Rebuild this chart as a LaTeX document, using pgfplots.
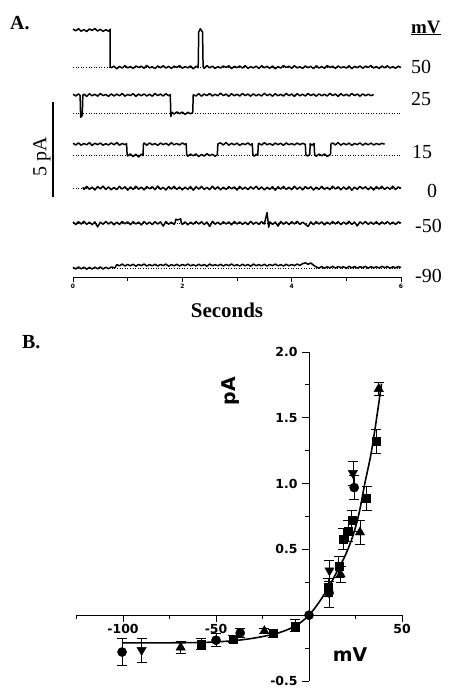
\documentclass[border=0pt]{standalone}
\usepackage{pgfplots}
\pgfplotsset{compat=1.18}
\usepackage{fontspec}
\setmainfont{Liberation Serif}
\newfontfamily\dejavu{DejaVu Sans}
\pgfplotsset{
  trace/.style={black, line width=1.5pt, no markers, line join=round},
  base/.style={black, dotted, line width=0.6pt, no markers},
}
\begin{document}
\begin{tikzpicture}
\path[use as bounding box] (0,0) rectangle (449bp,-688bp);

% ---------------- Panel A ----------------
\begin{axis}[at={(73bp,-277bp)}, anchor=south west, scale only axis,
  width=328bp, height=257bp, xmin=0, xmax=6, ymin=0, ymax=13.53,
  axis x line*=bottom, axis y line=none, clip=false,
  xtick={0,2,4,6}, xticklabels={0,2,4,6}, minor xtick={1,3,5},
  tick align=outside, major tick length=5bp, minor tick length=3.5bp,
  axis line style={line width=0.9pt}, tick style={black, line width=0.8pt},
  xticklabel style={font=\dejavu\bfseries\fontsize{6}{6}\selectfont, yshift=1bp}]
% baselines (closed level)
\addplot[base] coordinates {(0,11.05) (6,11.05)};
\addplot[base] coordinates {(0,8.63) (6,8.63)};
\addplot[base] coordinates {(0,6.42) (6,6.42)};
\addplot[base] coordinates {(0,4.68) (6,4.68)};
\addplot[base] coordinates {(0,2.84) (6,2.84)};
\addplot[base] coordinates {(0,0.47) (6,0.47)};
% +50 mV
\addplot[trace] table[row sep=\\, y expr=\thisrowno{1}+11.05]{t i\\
0 2.00\\ 0.05 1.91\\ 0.10 2.02\\ 0.15 1.89\\ 0.20 1.98\\ 0.25 1.87\\ 0.30 2.01\\ 0.35 1.93\\
0.40 2.03\\ 0.45 1.90\\ 0.50 1.99\\ 0.55 1.88\\ 0.60 1.97\\ 0.65 1.89\\ 0.68 2.00\\ 0.681 0.00\\
0.70 -0.03\\ 0.75 0.05\\ 0.80 -0.09\\ 0.85 0.04\\ 0.90 -0.05\\ 0.95 0.08\\ 1.00 -0.04\\ 1.05 0.03\\
1.10 -0.07\\ 1.15 0.06\\ 1.20 -0.02\\ 1.25 0.05\\ 1.30 -0.06\\ 1.35 0.09\\ 1.40 -0.04\\ 1.45 0.02\\
1.50 -0.08\\ 1.55 0.06\\ 1.60 -0.03\\ 1.65 0.07\\ 1.70 -0.05\\ 1.75 0.04\\ 1.80 -0.07\\ 1.85 0.05\\
1.90 -0.02\\ 1.95 0.08\\ 2.00 -0.06\\ 2.05 0.03\\ 2.10 -0.04\\ 2.15 0.06\\ 2.20 -0.09\\ 2.25 0.05\\
2.29 -0.03\\ 2.30 1.85\\ 2.33 2.02\\ 2.35 1.92\\ 2.37 1.85\\ 2.38 0.02\\ 2.40 -0.06\\ 2.45 0.08\\
2.50 -0.04\\ 2.55 0.05\\ 2.60 -0.07\\ 2.65 0.03\\ 2.70 -0.05\\ 2.75 0.06\\ 2.80 -0.02\\ 2.85 0.07\\
2.90 -0.08\\ 2.95 0.04\\ 3.00 -0.03\\ 3.05 0.06\\ 3.10 -0.05\\ 3.15 0.08\\ 3.20 -0.06\\ 3.25 0.02\\
3.30 -0.04\\ 3.35 0.05\\ 3.40 -0.07\\ 3.45 0.07\\ 3.50 -0.03\\ 3.55 0.04\\ 3.60 -0.06\\ 3.65 0.06\\
3.70 -0.09\\ 3.75 0.03\\ 3.80 -0.05\\ 3.85 0.08\\ 3.90 -0.02\\ 3.95 0.05\\ 4.00 -0.06\\ 4.05 0.07\\
4.10 -0.04\\ 4.15 0.02\\ 4.20 -0.07\\ 4.25 0.06\\ 4.30 -0.03\\ 4.35 0.04\\ 4.40 -0.08\\ 4.45 0.07\\
4.50 -0.05\\ 4.55 0.03\\ 4.60 -0.06\\ 4.65 0.08\\ 4.70 -0.02\\ 4.75 0.05\\ 4.80 -0.07\\ 4.85 0.06\\
4.90 -0.04\\ 4.95 0.02\\ 5.00 -0.05\\ 5.05 0.07\\ 5.10 -0.08\\ 5.15 0.04\\ 5.20 -0.03\\ 5.25 0.06\\
5.30 -0.06\\ 5.35 0.05\\ 5.40 -0.02\\ 5.45 0.08\\ 5.50 -0.05\\ 5.55 0.03\\ 5.60 -0.07\\ 5.65 0.06\\
5.70 -0.04\\ 5.75 0.07\\ 5.80 -0.05\\ 5.85 0.03\\ 5.90 -0.06\\ 5.95 0.05\\ 6.00 -0.02\\};
% +25 mV
\addplot[trace] table[row sep=\\, y expr=\thisrowno{1}+8.63]{t i\\
0 0.99\\ 0.05 0.90\\ 0.10 1.01\\ 0.13 0.93\\ 0.14 -0.22\\ 0.17 -0.12\\ 0.18 0.94\\ 0.20 1.00\\
0.25 0.88\\ 0.30 1.02\\ 0.35 0.91\\ 0.40 0.99\\ 0.45 0.89\\ 0.50 1.03\\ 0.55 0.92\\ 0.60 0.98\\
0.65 0.88\\ 0.70 1.01\\ 0.75 0.90\\ 0.80 1.00\\ 0.85 0.91\\ 0.90 1.03\\ 0.95 0.89\\ 1.00 0.98\\
1.05 0.92\\ 1.10 1.02\\ 1.15 0.88\\ 1.20 1.00\\ 1.25 0.91\\ 1.30 1.01\\ 1.35 0.90\\ 1.40 0.99\\
1.45 0.89\\ 1.50 1.03\\ 1.55 0.92\\ 1.60 1.00\\ 1.65 0.90\\ 1.70 1.02\\ 1.75 0.91\\ 1.78 0.97\\
1.79 -0.18\\ 1.81 0.04\\ 1.85 -0.05\\ 1.90 0.06\\ 1.95 -0.03\\ 2.00 0.05\\ 2.05 -0.07\\ 2.10 0.04\\
2.15 -0.04\\ 2.19 0.03\\ 2.20 0.96\\ 2.25 0.90\\ 2.30 1.02\\ 2.35 0.89\\ 2.40 1.00\\ 2.45 0.92\\
2.50 1.03\\ 2.55 0.90\\ 2.60 0.99\\ 2.65 0.91\\ 2.70 1.05\\ 2.75 0.92\\ 2.80 1.00\\ 2.85 0.88\\
2.90 1.02\\ 2.95 0.91\\ 3.00 0.99\\ 3.05 0.90\\ 3.10 1.03\\ 3.15 0.92\\ 3.20 1.00\\ 3.25 0.89\\
3.30 1.01\\ 3.35 0.91\\ 3.40 0.99\\ 3.45 0.90\\ 3.50 1.04\\ 3.55 0.92\\ 3.60 1.00\\ 3.65 0.89\\
3.70 1.02\\ 3.75 0.91\\ 3.80 0.99\\ 3.85 0.90\\ 3.90 1.03\\ 3.95 0.92\\ 4.00 1.00\\ 4.05 0.88\\
4.10 1.02\\ 4.15 0.91\\ 4.20 0.99\\ 4.25 0.90\\ 4.30 1.03\\ 4.35 0.92\\ 4.40 1.00\\ 4.45 0.89\\
4.50 1.01\\ 4.55 0.91\\ 4.60 0.99\\ 4.65 0.90\\ 4.70 1.04\\ 4.75 0.92\\ 4.80 1.00\\ 4.85 0.88\\
4.90 1.02\\ 4.95 0.91\\ 5.00 0.99\\ 5.05 0.90\\ 5.10 1.03\\ 5.15 0.92\\ 5.20 1.00\\ 5.25 0.89\\
5.30 1.01\\ 5.35 0.91\\ 5.40 0.99\\ 5.45 0.92\\ 5.50 0.97\\};
% +15 mV
\addplot[trace] table[row sep=\\, y expr=\thisrowno{1}+6.42]{t i\\
0 0.62\\ 0.05 0.53\\ 0.10 0.64\\ 0.15 0.52\\ 0.20 0.61\\ 0.25 0.54\\ 0.30 0.65\\ 0.35 0.51\\
0.40 0.62\\ 0.45 0.55\\ 0.50 0.63\\ 0.55 0.52\\ 0.60 0.60\\ 0.65 0.53\\ 0.70 0.64\\ 0.75 0.54\\
0.80 0.66\\ 0.85 0.52\\ 0.90 0.61\\ 0.95 0.55\\ 0.98 0.60\\ 0.99 0.03\\ 1.00 -0.05\\ 1.05 0.06\\
1.10 -0.08\\ 1.15 0.04\\ 1.20 -0.10\\ 1.25 0.05\\ 1.28 -0.03\\ 1.29 0.58\\ 1.30 0.63\\ 1.35 0.52\\
1.40 0.64\\ 1.45 0.54\\ 1.50 0.61\\ 1.55 0.51\\ 1.60 0.63\\ 1.65 0.55\\ 1.70 0.62\\ 1.75 0.52\\
1.80 0.65\\ 1.85 0.54\\ 1.90 0.61\\ 1.95 0.53\\ 2.00 0.64\\ 2.05 0.55\\ 2.07 0.60\\ 2.08 0.02\\
2.10 -0.06\\ 2.15 0.05\\ 2.20 -0.04\\ 2.25 0.06\\ 2.30 -0.08\\ 2.35 0.03\\ 2.40 -0.05\\ 2.45 0.07\\
2.50 -0.03\\ 2.55 0.04\\ 2.60 -0.06\\ 2.64 0.02\\ 2.65 0.59\\ 2.70 0.64\\ 2.75 0.53\\ 2.80 0.66\\
2.85 0.52\\ 2.90 0.62\\ 2.95 0.54\\ 3.00 0.63\\ 3.05 0.51\\ 3.10 0.61\\ 3.15 0.55\\ 3.20 0.64\\
3.25 0.52\\ 3.28 0.60\\ 3.29 0.01\\ 3.32 -0.06\\ 3.35 0.04\\ 3.38 -0.02\\ 3.39 0.59\\ 3.40 0.62\\
3.45 0.53\\ 3.50 0.65\\ 3.55 0.54\\ 3.60 0.61\\ 3.65 0.52\\ 3.70 0.63\\ 3.75 0.55\\ 3.80 0.62\\
3.85 0.51\\ 3.90 0.64\\ 3.95 0.54\\ 4.00 0.61\\ 4.05 0.53\\ 4.10 0.63\\ 4.15 0.55\\ 4.20 0.62\\
4.25 0.56\\ 4.26 0.01\\ 4.29 -0.05\\ 4.33 0.03\\ 4.34 0.60\\ 4.37 0.52\\ 4.41 0.61\\ 4.42 0.02\\
4.45 -0.06\\ 4.50 0.05\\ 4.55 -0.04\\ 4.60 0.06\\ 4.65 -0.07\\ 4.71 0.03\\ 4.72 0.59\\ 4.75 0.64\\
4.80 0.53\\ 4.85 0.66\\ 4.90 0.52\\ 4.95 0.62\\ 5.00 0.54\\ 5.05 0.63\\ 5.10 0.51\\ 5.15 0.61\\
5.20 0.55\\ 5.25 0.64\\ 5.30 0.52\\ 5.35 0.62\\ 5.40 0.54\\ 5.45 0.63\\ 5.50 0.53\\ 5.55 0.61\\
5.60 0.55\\ 5.65 0.62\\ 5.70 0.57\\};
% 0 mV
\addplot[trace] table[row sep=\\, y expr=\thisrowno{1}+4.68]{t i\\
0.18 0.04\\ 0.20 -0.07\\ 0.25 0.09\\ 0.30 -0.06\\ 0.35 0.05\\ 0.40 -0.10\\ 0.45 0.08\\ 0.50 -0.04\\
0.55 0.10\\ 0.60 -0.07\\ 0.65 0.06\\ 0.70 -0.09\\ 0.75 0.04\\ 0.80 -0.08\\ 0.85 0.09\\ 0.90 -0.05\\
0.95 0.07\\ 1.00 -0.11\\ 1.05 0.06\\ 1.10 -0.07\\ 1.15 0.10\\ 1.20 -0.06\\ 1.25 0.05\\ 1.30 -0.09\\
1.35 0.08\\ 1.40 -0.04\\ 1.45 0.07\\ 1.50 -0.08\\ 1.55 0.11\\ 1.60 -0.06\\ 1.65 0.04\\ 1.70 -0.10\\
1.75 0.08\\ 1.80 -0.05\\ 1.85 0.09\\ 1.90 -0.07\\ 1.95 0.06\\ 2.00 -0.09\\ 2.05 0.05\\ 2.10 -0.06\\
2.15 0.08\\ 2.20 -0.11\\ 2.25 0.07\\ 2.30 -0.05\\ 2.35 0.09\\ 2.40 -0.07\\ 2.45 0.04\\ 2.50 -0.08\\
2.55 0.10\\ 2.60 -0.06\\ 2.65 0.07\\ 2.70 -0.09\\ 2.75 0.05\\ 2.80 -0.07\\ 2.85 0.08\\ 2.90 -0.04\\
2.95 0.06\\ 3.00 -0.10\\ 3.05 0.09\\ 3.10 -0.06\\ 3.15 0.05\\ 3.20 -0.08\\ 3.25 0.07\\ 3.30 -0.05\\
3.35 0.10\\ 3.40 -0.07\\ 3.45 0.06\\ 3.50 -0.09\\ 3.55 0.04\\ 3.60 -0.06\\ 3.65 0.08\\ 3.70 -0.11\\
3.75 0.07\\ 3.80 -0.05\\ 3.85 0.09\\ 3.90 -0.07\\ 3.95 0.05\\ 4.00 -0.08\\ 4.05 0.10\\ 4.10 -0.06\\
4.15 0.06\\ 4.20 -0.09\\ 4.25 0.08\\ 4.30 -0.04\\ 4.35 0.07\\ 4.40 -0.10\\ 4.45 0.05\\ 4.50 -0.07\\
4.55 0.09\\ 4.60 -0.06\\ 4.65 0.04\\ 4.70 -0.08\\ 4.75 0.10\\ 4.80 -0.05\\ 4.85 0.07\\ 4.90 -0.09\\
4.95 0.06\\ 5.00 -0.07\\ 5.05 0.08\\ 5.10 -0.11\\ 5.15 0.05\\ 5.20 -0.06\\ 5.25 0.09\\ 5.30 -0.04\\
5.35 0.07\\ 5.40 -0.08\\ 5.45 0.06\\ 5.50 -0.10\\ 5.55 0.08\\ 5.60 -0.05\\ 5.65 0.09\\ 5.70 -0.07\\
5.75 0.05\\ 5.80 -0.06\\ 5.85 0.10\\ 5.90 -0.08\\ 5.95 0.06\\ 6.00 -0.02\\};
% -50 mV
\addplot[trace] table[row sep=\\, y expr=\thisrowno{1}+2.84]{t i\\
0 0.06\\ 0.05 -0.08\\ 0.10 0.07\\ 0.15 -0.05\\ 0.20 0.09\\ 0.25 -0.07\\ 0.30 0.05\\ 0.35 -0.09\\
0.40 0.06\\ 0.45 -0.20\\ 0.50 0.04\\ 0.55 -0.06\\ 0.60 0.08\\ 0.65 -0.05\\ 0.70 0.06\\ 0.75 -0.09\\
0.80 0.05\\ 0.85 -0.07\\ 0.90 0.08\\ 0.95 -0.04\\ 1.00 0.06\\ 1.05 -0.08\\ 1.10 0.07\\ 1.15 -0.05\\
1.20 0.05\\ 1.25 -0.10\\ 1.30 0.08\\ 1.35 -0.06\\ 1.40 0.05\\ 1.45 -0.08\\ 1.50 0.07\\ 1.55 -0.05\\
1.60 0.06\\ 1.65 -0.16\\ 1.70 0.08\\ 1.75 -0.06\\ 1.80 0.05\\ 1.85 -0.07\\ 1.87 0.04\\ 1.88 0.20\\
1.92 0.17\\ 1.97 0.22\\ 1.98 0.02\\ 2.00 -0.07\\ 2.05 0.06\\ 2.10 -0.09\\ 2.15 0.05\\ 2.20 -0.06\\
2.25 0.08\\ 2.30 -0.05\\ 2.35 0.07\\ 2.40 -0.08\\ 2.45 0.05\\ 2.50 -0.18\\ 2.55 0.09\\ 2.60 -0.06\\
2.65 0.05\\ 2.70 -0.08\\ 2.75 0.07\\ 2.80 -0.05\\ 2.85 0.06\\ 2.90 -0.09\\ 2.95 0.08\\ 3.00 -0.05\\
3.05 0.06\\ 3.10 -0.07\\ 3.15 0.05\\ 3.20 -0.08\\ 3.25 0.09\\ 3.30 -0.06\\ 3.35 0.05\\ 3.40 -0.07\\
3.45 0.08\\ 3.50 -0.05\\ 3.55 0.55\\ 3.58 -0.22\\ 3.60 0.06\\ 3.65 -0.07\\ 3.70 0.05\\ 3.75 -0.16\\
3.80 0.08\\ 3.85 -0.06\\ 3.90 0.06\\ 3.95 -0.08\\ 4.00 0.07\\ 4.05 -0.05\\ 4.10 0.09\\ 4.15 -0.07\\
4.20 0.05\\ 4.25 -0.06\\ 4.30 -0.18\\ 4.35 0.06\\ 4.40 -0.08\\ 4.45 0.07\\ 4.50 -0.05\\ 4.55 0.06\\
4.60 -0.09\\ 4.65 0.05\\ 4.70 -0.06\\ 4.75 0.08\\ 4.80 -0.05\\ 4.85 0.07\\ 4.90 -0.08\\ 4.95 0.05\\
5.00 -0.06\\ 5.05 0.09\\ 5.10 -0.07\\ 5.15 0.05\\ 5.20 -0.15\\ 5.25 0.06\\ 5.30 -0.05\\ 5.35 0.08\\
5.40 -0.07\\ 5.45 0.05\\ 5.50 -0.06\\ 5.55 0.07\\ 5.60 -0.08\\ 5.65 0.06\\ 5.70 -0.05\\ 5.75 0.08\\
5.80 -0.06\\ 5.85 0.05\\ 5.90 -0.07\\ 5.95 0.06\\ 6.00 0.00\\};
% -90 mV
\addplot[trace] table[row sep=\\, y expr=\thisrowno{1}+0.47]{t i\\
0 0.04\\ 0.05 -0.05\\ 0.10 0.06\\ 0.15 -0.04\\ 0.20 0.05\\ 0.25 -0.06\\ 0.30 0.04\\ 0.35 -0.05\\
0.40 0.05\\ 0.45 -0.04\\ 0.50 0.06\\ 0.55 -0.05\\ 0.60 0.04\\ 0.65 -0.03\\ 0.70 0.05\\ 0.77 0.02\\
0.80 0.18\\ 0.85 0.12\\ 0.90 0.21\\ 0.95 0.11\\ 1.00 0.19\\ 1.05 0.12\\ 1.10 0.20\\ 1.15 0.10\\
1.20 0.19\\ 1.25 0.13\\ 1.30 0.21\\ 1.35 0.11\\ 1.40 0.18\\ 1.45 0.12\\ 1.50 0.20\\ 1.55 0.11\\
1.60 0.19\\ 1.65 0.13\\ 1.70 0.21\\ 1.75 0.10\\ 1.80 0.18\\ 1.85 0.12\\ 1.90 0.20\\ 1.95 0.11\\
2.00 0.19\\ 2.05 0.13\\ 2.10 0.21\\ 2.15 0.12\\ 2.20 0.18\\ 2.25 0.11\\ 2.30 0.20\\ 2.35 0.12\\
2.40 0.19\\ 2.45 0.10\\ 2.50 0.21\\ 2.55 0.13\\ 2.60 0.18\\ 2.65 0.12\\ 2.70 0.20\\ 2.75 0.11\\
2.80 0.19\\ 2.85 0.13\\ 2.90 0.21\\ 2.95 0.12\\ 3.00 0.18\\ 3.05 0.11\\ 3.10 0.20\\ 3.15 0.12\\
3.20 0.19\\ 3.25 0.10\\ 3.30 0.21\\ 3.35 0.13\\ 3.40 0.18\\ 3.45 0.12\\ 3.50 0.20\\ 3.55 0.11\\
3.60 0.19\\ 3.65 0.13\\ 3.70 0.21\\ 3.75 0.12\\ 3.80 0.18\\ 3.85 0.11\\ 3.90 0.20\\ 3.95 0.12\\
4.00 0.19\\ 4.05 0.13\\ 4.10 0.21\\ 4.15 0.14\\ 4.20 0.23\\ 4.25 0.28\\ 4.30 0.20\\ 4.35 0.27\\
4.40 0.15\\ 4.45 0.06\\ 4.50 0.00\\ 4.55 0.08\\ 4.60 -0.01\\ 4.65 0.07\\ 4.70 0.01\\ 4.75 0.09\\
4.80 0.00\\ 4.85 0.08\\ 4.90 0.02\\ 4.95 0.07\\ 5.00 -0.01\\ 5.05 0.09\\ 5.10 0.01\\ 5.15 0.08\\
5.20 0.00\\ 5.25 0.07\\ 5.30 0.02\\ 5.35 0.09\\ 5.40 -0.01\\ 5.45 0.08\\ 5.50 0.01\\ 5.55 0.07\\
5.60 0.00\\ 5.65 0.09\\ 5.70 0.02\\ 5.75 0.08\\ 5.80 -0.01\\ 5.85 0.07\\ 5.90 0.01\\ 5.95 0.08\\
6.00 0.03\\};
% 5 pA scale bar
\draw[line width=1.3pt] (axis cs:-0.366,4.21) -- (axis cs:-0.366,9.21);
\end{axis}

\node[font=\bfseries\fontsize{20}{22}\selectfont, anchor=base west, inner sep=0pt] at (10bp,-29bp) {A.};
\node[font=\bfseries\fontsize{19}{21}\selectfont, anchor=base west, inner sep=0pt] at (411bp,-33bp) {\underline{mV}};
\node[font=\fontsize{20}{22}\selectfont, anchor=base west, inner sep=0pt] at (411bp,-73bp) {50};
\node[font=\fontsize{20}{22}\selectfont, anchor=base west, inner sep=0pt] at (411bp,-105bp) {25};
\node[font=\fontsize{20}{22}\selectfont, anchor=base west, inner sep=0pt] at (412bp,-158bp) {15};
\node[font=\fontsize{20}{22}\selectfont, anchor=base west, inner sep=0pt] at (427bp,-197bp) {0};
\node[font=\fontsize{20}{22}\selectfont, anchor=base west, inner sep=0pt] at (415bp,-232bp) {-50};
\node[font=\fontsize{20}{22}\selectfont, anchor=base west, inner sep=0pt] at (415bp,-282bp) {-90};
\node[font=\fontsize{20}{22}\selectfont, rotate=90, inner sep=0pt] at (42bp,-157bp) {5 pA};
\node[font=\bfseries\fontsize{21}{23}\selectfont, anchor=base, inner sep=0pt] at (227bp,-317bp) {Seconds};

% ---------------- Panel B ----------------
\node[font=\bfseries\fontsize{20}{22}\selectfont, anchor=base west, inner sep=0pt] at (22bp,-348bp) {B.};

\begin{axis}[at={(76.5bp,-681bp)}, anchor=south west, scale only axis,
  width=325.5bp, height=329bp, xmin=-125, xmax=50, ymin=-0.5, ymax=2.0,
  axis lines=middle, axis line style={-, line width=1pt}, clip=false,
  tick align=outside, major tick length=7bp, minor tick length=4bp,
  tick style={black, line width=1pt},
  xtick={-100,-50,50}, xticklabels={-100,-50,50}, minor xtick={-125,-75,-25,25},
  ytick={-0.5,0.5,1,1.5,2}, yticklabels={-0.5,0.5,1.0,1.5,2.0},
  minor ytick={-0.25,0.25,0.75,1.25,1.75},
  ticklabel style={font=\dejavu\bfseries\fontsize{12.5}{13}\selectfont},
  xticklabel style={yshift=1bp}, yticklabel style={xshift=-1bp},
  error bars/y dir=both, error bars/y explicit,
  error bars/error bar style={line width=0.8pt, black},
  error bars/error mark options={rotate=90, line width=0.8pt, mark size=5bp, black}]
% fitted curve
\addplot[black, line width=1.6pt, smooth, no markers] coordinates {
(-100,-0.21) (-80,-0.21) (-60,-0.208) (-50,-0.203) (-40,-0.193) (-30,-0.175)
(-20,-0.148) (-15,-0.128) (-10,-0.10) (-5,-0.06) (0,0) (5,0.09) (10,0.20)
(15,0.33) (20,0.47) (24,0.62) (27,0.78) (30,1.0) (33,1.2) (35,1.37) (37,1.56) (39,1.76)};
% circles
\addplot[black, only marks, mark=*, mark size=4.6bp] table[row sep=\\, y error index=2]{x y e\\
-100.5 -0.28 0.10\\ -50 -0.19 0.05\\ -37 -0.135 0.035\\ 0 0 0\\ 10.8 0.17 0.11\\ 24.3 0.97 0.09\\};
% inverted triangles
\addplot[black, only marks, mark=triangle*, mark size=5.4bp, mark options={rotate=180}] table[row sep=\\, y error index=2]{x y e\\
-90 -0.265 0.09\\ 11 0.34 0.08\\ 23.6 1.08 0.09\\};
% squares
\addplot[black, only marks, mark=square*, mark size=4bp] table[row sep=\\, y error index=2]{x y e\\
-58 -0.22 0.04\\ -41 -0.18 0.03\\ -19.5 -0.14 0.03\\ -7.5 -0.08 0.045\\ 10.2 0.21 0.07\\
16 0.37 0.08\\ 18.5 0.58 0.08\\ 21 0.64 0.08\\ 23 0.72 0.08\\ 31 0.89 0.09\\ 36 1.32 0.09\\};
% triangles
\addplot[black, only marks, mark=triangle*, mark size=5.4bp] table[row sep=\\, y error index=2]{x y e\\
-69 -0.245 0.045\\ -24 -0.12 0.02\\ 17 0.31 0.06\\ 27.4 0.63 0.09\\ 37.5 1.72 0.05\\};
\end{axis}
\node[font=\dejavu\bfseries\fontsize{19}{21}\selectfont, rotate=90, inner sep=0pt] at (231bp,-391bp) {pA};
\node[font=\dejavu\bfseries\fontsize{19}{21}\selectfont, inner sep=0pt] at (350bp,-655bp) {mV};
\end{tikzpicture}
\end{document}
